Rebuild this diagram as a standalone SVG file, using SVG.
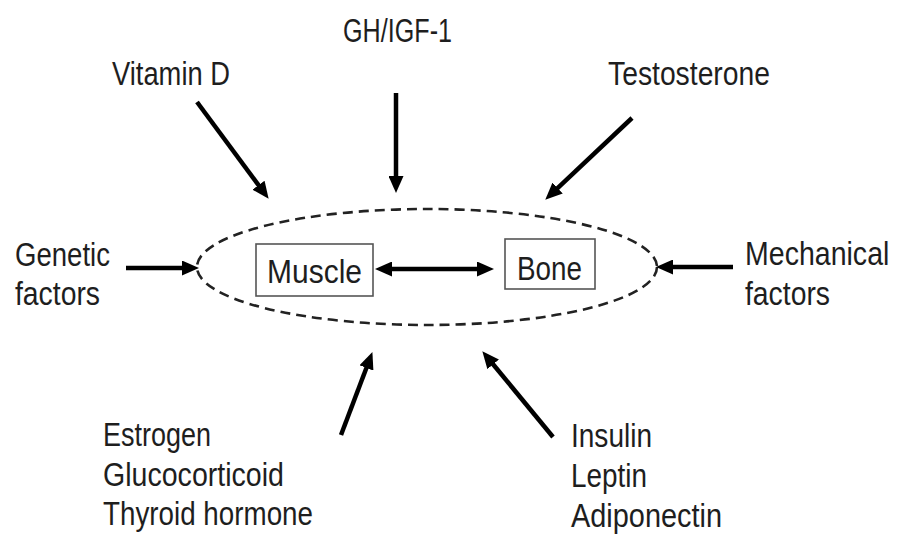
<svg xmlns="http://www.w3.org/2000/svg" width="900" height="535" viewBox="0 0 900 535">
<style>
.t{font-family:"Liberation Sans",Arial,sans-serif;font-size:33px;fill:#1e1e1e}
.b{font-size:34px}
.a{stroke:#000;stroke-width:4.5;fill:none}
.box{fill:#fff;stroke:#555;stroke-width:1.6}
</style>
<defs>
<marker id="ah" markerUnits="userSpaceOnUse" markerWidth="17" markerHeight="15" viewBox="0 0 17 15" refX="4" refY="7.5" orient="auto-start-reverse">
<path d="M0,0 L17,7.5 L0,15 z" fill="#000"/>
</marker>
</defs>
<g id="boundary">
<ellipse cx="427" cy="267" rx="230" ry="58" fill="none" stroke="#222" stroke-width="2.6" stroke-dasharray="10 6"/>
</g>
<g id="connectors">
<line class="a" x1="197" y1="102" x2="260.9" y2="188.4" marker-end="url(#ah)"/>
<line class="a" x1="396" y1="93" x2="396" y2="180" marker-end="url(#ah)"/>
<line class="a" x1="632" y1="118" x2="554.7" y2="190.8" marker-end="url(#ah)"/>
<line class="a" x1="126" y1="268" x2="186" y2="268" marker-end="url(#ah)"/>
<line class="a" x1="733" y1="267" x2="669" y2="267" marker-end="url(#ah)"/>
<line class="a" x1="341" y1="435" x2="367.8" y2="364.2" marker-end="url(#ah)"/>
<line class="a" x1="553" y1="437" x2="490.6" y2="361.3" marker-end="url(#ah)"/>
<line class="a" x1="388" y1="269" x2="481" y2="269" marker-start="url(#ah)" marker-end="url(#ah)"/>
</g>
<g id="muscle">
<rect class="box" x="256" y="244" width="117" height="52"/>
<text class="t b" x="267" y="283" textLength="95" lengthAdjust="spacingAndGlyphs">Muscle</text>
</g>
<g id="bone">
<rect class="box" x="505" y="239" width="90" height="50"/>
<text class="t b" x="517" y="280" textLength="65" lengthAdjust="spacingAndGlyphs">Bone</text>
</g>
<g id="gh">
<text class="t" x="343" y="42" textLength="109" lengthAdjust="spacingAndGlyphs">GH/IGF-1</text>
</g>
<g id="vitd">
<text class="t" x="112" y="85" textLength="118" lengthAdjust="spacingAndGlyphs">Vitamin D</text>
</g>
<g id="testosterone">
<text class="t" x="608" y="85" textLength="162" lengthAdjust="spacingAndGlyphs">Testosterone</text>
</g>
<g id="genetic">
<text class="t" x="15" y="266" textLength="95" lengthAdjust="spacingAndGlyphs">Genetic</text>
<text class="t" x="15" y="305" textLength="85" lengthAdjust="spacingAndGlyphs">factors</text>
</g>
<g id="mechanical">
<text class="t" transform="translate(745,265) scale(0.865,1)" x="0" y="0">Mechanical</text>
<text class="t" x="745" y="305" textLength="85" lengthAdjust="spacingAndGlyphs">factors</text>
</g>
<g id="hormones">
<text class="t" x="103" y="446" textLength="108" lengthAdjust="spacingAndGlyphs">Estrogen</text>
<text class="t" x="103" y="486" textLength="181" lengthAdjust="spacingAndGlyphs">Glucocorticoid</text>
<text class="t" x="103" y="525" textLength="210" lengthAdjust="spacingAndGlyphs">Thyroid hormone</text>
</g>
<g id="adipokines">
<text class="t" x="571" y="447" textLength="81" lengthAdjust="spacingAndGlyphs">Insulin</text>
<text class="t" x="571" y="487" textLength="76" lengthAdjust="spacingAndGlyphs">Leptin</text>
<text class="t" x="571" y="527" textLength="151" lengthAdjust="spacingAndGlyphs">Adiponectin</text>
</g>
</svg>
